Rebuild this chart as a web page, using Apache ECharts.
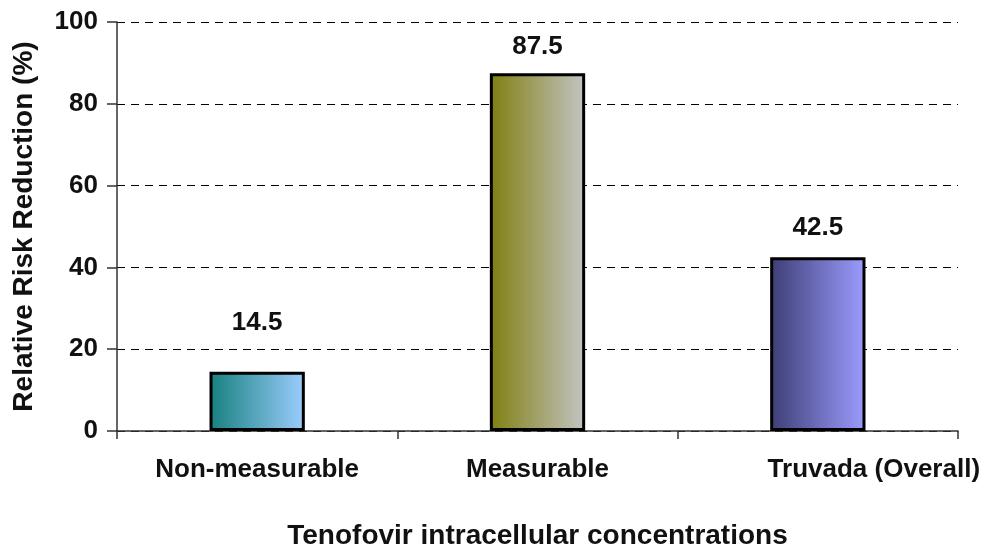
<!DOCTYPE html>
<html><head><meta charset="utf-8">
<script src="https://cdn.jsdelivr.net/npm/echarts@6/dist/echarts.min.js"></script>
<style>html,body{margin:0;padding:0;background:#fff}#c{width:986px;height:548px}</style>
</head><body><div id="c"></div>
<script>
const categories = ["Non-measurable", "Measurable", "Truvada (Overall)"];
const values = [14.5, 87.5, 42.5];
const yTicks = [0, 20, 40, 60, 80, 100];
const gradients = [["#16807e", "#9ccdff"], ["#7f7f10", "#c4c4c4"], ["#3d3d75", "#9c9cff"]];
const labelOffsets = [[0, -22], [0, 1], [0, -2]];
const categoryShift = [0, 0, 112];

const font = "'Liberation Sans', Arial, sans-serif";
const chart = echarts.init(document.getElementById('c'));
chart.setOption({
  animation: false,
  grid: {left: 117, right: 28, top: 22, bottom: 117, outerBoundsMode: 'none', containLabel: false},
  xAxis: {
    type: 'category',
    data: categories.map((c, i) => ({value: c, textStyle: {padding: [0, 0, 0, categoryShift[i]]}})),
    axisLine: {lineStyle: {color: '#333', width: 1.5}},
    axisTick: {show: true, length: 8, alignWithLabel: false, lineStyle: {color: '#333', width: 1.5}},
    axisLabel: {color: '#111', fontFamily: font, fontWeight: 'bold', fontSize: 26, margin: 26},
    name: 'Tenofovir intracellular concentrations',
    nameLocation: 'middle', nameGap: 91,
    nameTextStyle: {color: '#111', fontFamily: font, fontWeight: 'bold', fontSize: 28}
  },
  yAxis: {
    type: 'value', min: yTicks[0], max: yTicks[yTicks.length - 1], interval: 20,
    axisLine: {show: true, lineStyle: {color: '#333', width: 1.5}},
    axisTick: {show: true, length: 10, inside: false, lineStyle: {color: '#333', width: 1.5}},
    axisLabel: {color: '#111', fontFamily: font, fontWeight: 'bold', fontSize: 26, margin: 19},
    splitLine: {show: true, lineStyle: {color: '#000', type: [8, 6], width: 1}},
    name: 'Relative Risk Reduction (%)',
    nameLocation: 'middle', nameGap: 79, nameRotate: 90,
    nameTextStyle: {color: '#111', fontFamily: font, fontWeight: 'bold', fontSize: 28}
  },
  series: [{
    type: 'bar', barWidth: '34%',
    data: values.map((v, i) => ({
      value: v,
      itemStyle: {
        color: new echarts.graphic.LinearGradient(0, 0, 1, 0, [
          {offset: 0, color: gradients[i][0]}, {offset: 1, color: gradients[i][1]}
        ]),
        borderColor: '#000', borderWidth: 3
      },
      label: {offset: labelOffsets[i]}
    })),
    label: {show: true, position: 'top', distance: 14, color: '#111', fontFamily: font, fontWeight: 'bold', fontSize: 26,
      formatter: p => p.value.toFixed(1)}
  }]
});
</script></body></html>
